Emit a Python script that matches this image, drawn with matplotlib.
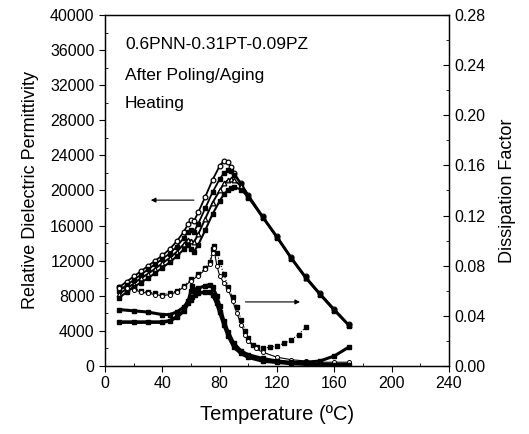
import matplotlib
matplotlib.use("Agg")
import matplotlib.pyplot as plt
from matplotlib.ticker import MultipleLocator, FormatStrFormatter

plt.rcParams['font.family'] = ['Liberation Sans', 'DejaVu Sans']

# ---- Relative dielectric permittivity (left axis) ----
T_eps = [10, 15, 20, 25, 30, 35, 40, 45, 50, 55, 58, 60, 62, 65, 70, 75, 80, 83, 86,
         88, 90, 95, 100, 110, 120, 130, 140, 150, 160, 170]
eps1 = [9000, 9600, 10200, 10800, 11400, 12000, 12600, 13300, 14200, 15300, 16200, 16600,
        16500, 17500, 19300, 21200, 22800, 23400, 23200, 22700, 22000, 20800, 19500, 17100,
        14800, 12400, 10200, 8300, 6500, 4750]
eps2 = [8600, 9200, 9800, 10400, 11000, 11600, 12200, 12800, 13600, 14600, 15300, 15500,
        15300, 16200, 18000, 19800, 21300, 22000, 22300, 22200, 21800, 20700, 19400, 17000,
        14700, 12300, 10100, 8200, 6400, 4700]
eps3 = [8200, 8800, 9400, 10000, 10500, 11100, 11700, 12300, 13000, 13900, 14400, 14300,
        14100, 15000, 16800, 18600, 20000, 20800, 21200, 21300, 21200, 20500, 19300, 16950,
        14650, 12250, 10050, 8150, 6350, 4650]
eps4 = [7800, 8400, 9000, 9500, 10000, 10600, 11200, 11800, 12500, 13300, 13800, 13300,
        13000, 13800, 15500, 17300, 18800, 19600, 20100, 20300, 20400, 20100, 19200, 16900,
        14600, 12200, 10000, 8100, 6300, 4600]

# ---- Dissipation factor (right axis) ----
T_d1 = [10, 15, 20, 25, 30, 35, 40, 45, 50, 55, 60, 65, 70, 73, 75, 76, 78, 80, 83, 86,
        89, 92, 95, 98, 100, 103, 106, 110, 115, 120, 125, 130, 135, 140]
tan1 = [0.063, 0.063, 0.062, 0.060, 0.059, 0.058, 0.057, 0.058, 0.060, 0.064, 0.069, 0.073,
        0.078, 0.083, 0.093, 0.096, 0.090, 0.083, 0.073, 0.063, 0.055, 0.047, 0.037, 0.028,
        0.022, 0.017, 0.015, 0.014, 0.015, 0.016, 0.018, 0.021, 0.025, 0.031]
T_d2 = [10, 15, 20, 25, 30, 35, 40, 45, 50, 55, 60, 65, 70, 73, 75, 76, 78, 80, 83, 86,
        89, 92, 95, 98, 100, 105, 110, 120, 130, 140, 150, 160, 170]
tan2 = [0.062, 0.062, 0.061, 0.059, 0.058, 0.057, 0.056, 0.057, 0.059, 0.063, 0.068, 0.072,
        0.077, 0.081, 0.090, 0.094, 0.080, 0.072, 0.066, 0.061, 0.052, 0.042, 0.033, 0.025,
        0.020, 0.014, 0.011, 0.007, 0.005, 0.004, 0.003, 0.003, 0.003]
T_d34 = [10, 20, 30, 40, 45, 50, 55, 58, 60, 61, 63, 65, 70, 73, 75, 78, 80, 83, 86, 90,
         95, 100, 110, 120, 130, 140, 150, 160, 170]
tan3 = [0.045, 0.044, 0.043, 0.041, 0.041, 0.043, 0.047, 0.052, 0.060, 0.064, 0.061, 0.062,
        0.064, 0.065, 0.063, 0.056, 0.048, 0.036, 0.027, 0.018, 0.012, 0.009, 0.006, 0.004,
        0.003, 0.003, 0.004, 0.008, 0.015]
tan4 = [0.035, 0.035, 0.035, 0.035, 0.036, 0.039, 0.044, 0.050, 0.053, 0.055, 0.057, 0.058,
        0.059, 0.059, 0.057, 0.050, 0.043, 0.033, 0.024, 0.015, 0.010, 0.007, 0.004, 0.003,
        0.002, 0.0015, 0.0012, 0.001, 0.001]

x_ticks = [0, 40, 80, 120, 160, 200, 240]
eps_ticks = [0, 4000, 8000, 12000, 16000, 20000, 24000, 28000, 32000, 36000, 40000]
tan_ticks = [0.00, 0.04, 0.08, 0.12, 0.16, 0.20, 0.24, 0.28]

fig = plt.figure(figsize=(5.29, 4.34), dpi=100)
ax = fig.add_axes([0.1985, 0.1567, 0.6503, 0.8088])
ax2 = ax.twinx()

ms = 3.4
ax.plot(T_eps, eps1, color='black', lw=1.3, marker='o', ms=ms, mfc='white', mec='black', mew=0.9)
ax.plot(T_eps, eps2, color='black', lw=1.3, marker='s', ms=ms - 0.5, mfc='black', mec='black')
ax.plot(T_eps, eps3, color='black', lw=1.4, marker='^', ms=ms, mfc='white', mec='black', mew=0.9)
ax.plot(T_eps, eps4, color='black', lw=1.5, marker='s', ms=ms - 0.5, mfc='black', mec='black')

ax2.plot(T_d1, tan1, color='black', lw=0.8, ls=':', marker='s', ms=ms - 0.9, mfc='black', mec='black')
ax2.plot(T_d2, tan2, color='black', lw=0.8, marker='o', ms=ms - 0.5, mfc='white', mec='black', mew=0.7)
ax2.plot(T_d34, tan3, color='black', lw=2.2, marker='s', ms=ms - 0.6, mfc='black', mec='black')
ax2.plot(T_d34, tan4, color='black', lw=2.6, marker='s', ms=ms - 0.4, mfc='black', mec='black')

ax.set_xlim(0, 240)
ax.set_ylim(0, 40000)
ax2.set_ylim(0, 0.28)

ax.set_xticks(x_ticks)
ax.set_yticks(eps_ticks)
ax2.set_yticks(tan_ticks)
ax.xaxis.set_minor_locator(MultipleLocator(20))
ax.yaxis.set_minor_locator(MultipleLocator(2000))
ax2.yaxis.set_minor_locator(MultipleLocator(0.02))
ax2.yaxis.set_major_formatter(FormatStrFormatter('%.2f'))

ax.tick_params(axis='both', which='major', direction='out', length=4, width=0.8, labelsize=11.5)
ax.tick_params(axis='both', which='minor', direction='in', length=2.5, width=0.6)
ax.tick_params(axis='x', which='both', top=False)
ax2.tick_params(axis='y', which='major', direction='in', length=4, width=0.8, labelsize=11.5)
ax2.tick_params(axis='y', which='minor', direction='in', length=2.5, width=0.6)

for a in (ax, ax2):
    for s in a.spines.values():
        s.set_linewidth(0.9)

ax.set_xlabel('Temperature (\u00baC)', fontsize=14.5, labelpad=10)
ax.set_ylabel('Relative Dielectric Permittivity', fontsize=13, labelpad=8)
ax2.set_ylabel('Dissipation Factor', fontsize=13, labelpad=10)

ax.text(14, 36600, '0.6PNN-0.31PT-0.09PZ', fontsize=12.5, va='center')
ax.text(14, 33100, 'After Poling/Aging', fontsize=12.5, va='center')
ax.text(14, 29900, 'Heating', fontsize=12.5, va='center')

ax.annotate('', xy=(30, 18900), xytext=(64, 18900),
            arrowprops=dict(arrowstyle='-|>', color='black', lw=0.8, mutation_scale=7))
ax.annotate('', xy=(138, 7300), xytext=(96, 7300),
            arrowprops=dict(arrowstyle='-|>', color='black', lw=0.8, mutation_scale=7))

fig.savefig('out.png', dpi=100)
